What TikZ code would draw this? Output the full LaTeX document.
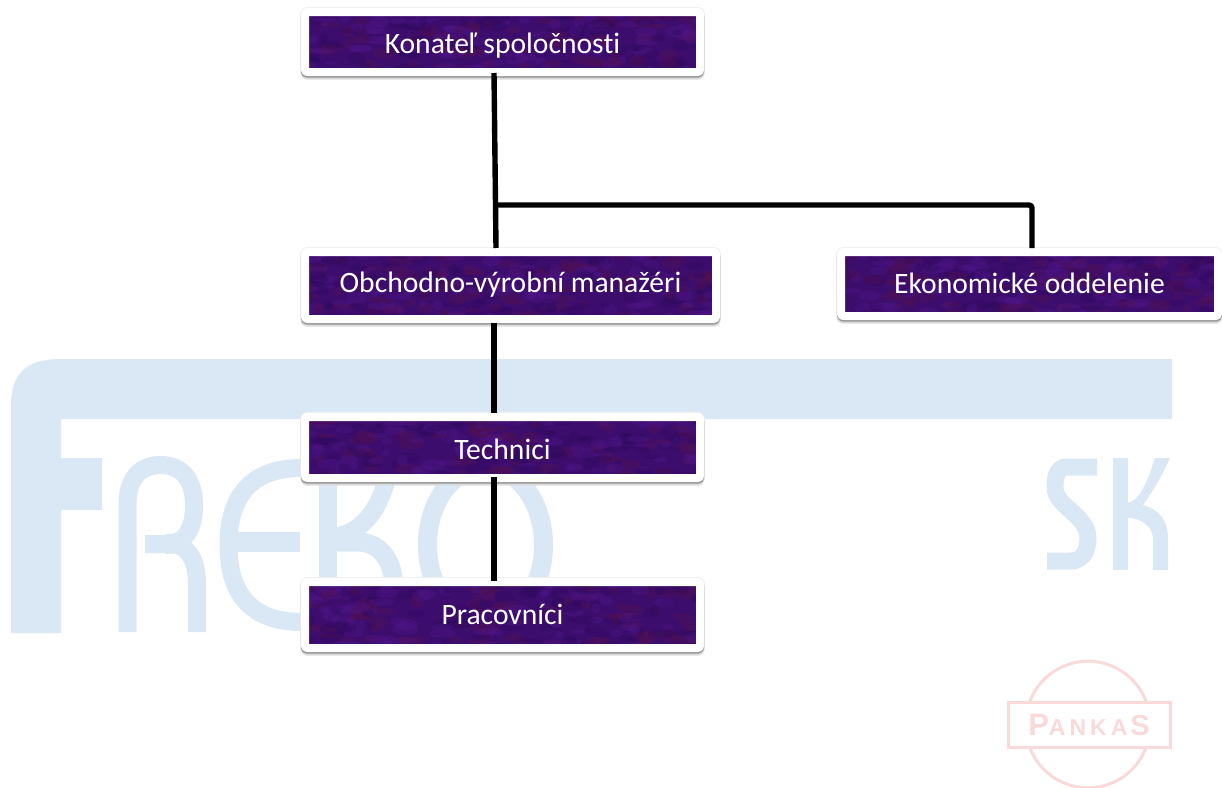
\documentclass[tikz,border=0pt]{standalone}
\usepackage{fontspec}
\setmainfont{Carlito}[Ligatures=NoCommon]
\newfontfamily\pankasfont{Liberation Sans}
\usetikzlibrary{calc}
\definecolor{logoblue}{HTML}{DAE8F5}
\definecolor{logopink}{HTML}{F9D9D9}
\definecolor{boxpurple}{HTML}{3D0D6E}
\definecolor{mottleA}{HTML}{4F1688}
\definecolor{mottleB}{HTML}{2E0A5E}
\definecolor{mottleC}{HTML}{521050}
\tikzset{
  x=1pt,y=-1pt,
  mottle/.style={path picture={
    \foreach \i in {1,...,320}{
      \pgfmathsetmacro{\dx}{rand*215}
      \pgfmathsetmacro{\dy}{rand*36}
      \pgfmathsetmacro{\rx}{4+rnd*9}
      \pgfmathsetmacro{\ry}{2+rnd*4}
      \pgfmathtruncatemacro{\pick}{mod(\i,3)}
      \ifcase\pick\relax\def\mc{mottleA}\or\def\mc{mottleB}\else\def\mc{mottleC}\fi
      \fill[\mc,opacity=.38] ($(path picture bounding box.center)+(\dx,\dy)$) ellipse [x radius=\rx pt,y radius=\ry pt];
    }
  }},
  orgbox/.style={rectangle,rounded corners=1.5pt,fill=boxpurple,mottle,draw=white,line width=8pt,line join=round,
    inner sep=0pt,outer sep=4pt,text=white,font=\fontsize{29.6}{32}\selectfont,text height=20pt,text depth=2pt,align=center,
    preaction={draw=black!6,line width=10pt},
    preaction={draw=black!14,line width=9pt,transform canvas={yshift=-3.2pt}},
    preaction={draw=black!42,line width=8pt,transform canvas={yshift=-1.6pt}}},
  link/.style={line width=5.4pt,black,rounded corners=3pt},
  logostroke/.style={draw=logoblue,line width=18pt,line cap=butt,line join=round},
  pankasline/.style={draw=logopink,line width=3pt}
}
\begin{document}
\begin{tikzpicture}
\pgfmathsetseed{4711}
\useasboundingbox (0,0) rectangle (1222,787);
% FREKO logo, pale blue
\fill[logoblue] (1172,359) -- (1172,419) -- (61,419) -- (61,458) -- (102,458) -- (102,510) -- (61,510) -- (61,633) -- (11,633) -- (11,405) .. controls (11,375) and (25,359) .. (60,359) -- cycle;
% R
\draw[logostroke] (127.5,632) -- (127.5,505) .. controls (127.5,478) and (140,465) .. (161,465) .. controls (182,465) and (194,480) .. (194,505) .. controls (194,530) and (185,544) .. (165,544) -- (145,544);
\draw[logostroke,line width=20pt] (165,544) -- (175,544);
\draw[logostroke] (175,544) .. controls (190,548) and (197,562) .. (197,585) -- (197,632);
% E
\draw[logostroke] (302,468) .. controls (252,468) and (228.5,495) .. (228.5,545) .. controls (228.5,595) and (252,622) .. (302,622);
\draw[logostroke,line width=20pt] (228.5,542) -- (300,542);
% K
\draw[logostroke] (327.5,458) -- (327.5,633);
\draw[logostroke] (392,458) .. controls (385,490) and (375,532) .. (330,538);
\draw[logostroke,line width=19pt] (330,542) -- (360,542) .. controls (382,544) and (394,562) .. (394,590) -- (394,633);
% O
\draw[logostroke,line width=19pt] (485.5,545) ellipse [x radius=58,y radius=78];
% SK
\draw[draw=logoblue,line width=17pt,line join=round] (1097,467) -- (1067,467) .. controls (1058,467) and (1055,475) .. (1055,487) .. controls (1055,507) and (1088,515) .. (1088,538) .. controls (1088,552) and (1082,561) .. (1070,561) -- (1047,561);
\fill[logoblue] (1113,458) rectangle (1128,570);
\fill[logoblue] (1155,458) -- (1170,458) .. controls (1160,480) and (1150,495) .. (1143,505) .. controls (1160,510) and (1168,520) .. (1168,540) -- (1168,570) -- (1153,570) -- (1153,540) .. controls (1153,525) and (1140,518) .. (1128,518) -- (1128,503) .. controls (1140,500) and (1148,480) .. (1155,458) -- cycle;
% PANKAS logo
\draw[pankasline] (1029.7,702) arc [start angle=200,end angle=340,radius=62];
\draw[pankasline] (1029.7,747) arc [start angle=160,end angle=20,radius=62];
\draw[pankasline] (1008,702) rectangle (1170,747);
\node[name=pankas,text=logopink,font=\pankasfont\bfseries,inner sep=0pt] at (1089,725) {\fontsize{31}{32}\selectfont P\hspace{0pt}\fontsize{23}{24}\selectfont A\hspace{4pt}N\hspace{4pt}K\hspace{4pt}A\hspace{3pt}\fontsize{29}{30}\selectfont S};
% boxes
\node[orgbox,minimum width=395pt,minimum height=60pt,text height=22pt,text depth=0pt] (kon) at (502.5,42) {Konateľ spoločnosti};
\node[orgbox,minimum width=411pt,minimum height=67pt,text height=17pt,text depth=3pt] (obch) at (510.5,285.5) {Obchodno-výrobní manažéri};
\node[orgbox,minimum width=377pt,minimum height=64pt] (eko) at (1029.5,284) {Ekonomické oddelenie};
\node[orgbox,minimum width=395pt,minimum height=61pt,text height=23pt,text depth=0pt] (tech) at (502.5,447.5) {Technici};
\node[orgbox,minimum width=395pt,minimum height=66pt] (prac) at (502.5,615) {Pracovníci};
% connectors
\coordinate (j) at (495.5,205);
\draw[link] ([xshift=-8.5pt,yshift=3pt]kon.south) -- ([xshift=-6.5pt]kon.south |- obch.north);
\draw[link] (j) -| ([xshift=2.5pt]eko.north);
\draw[link] ([xshift=-16.5pt]obch.south) -- ([xshift=-8.5pt]tech.north);
\draw[link] ([xshift=-8.5pt,yshift=5pt]tech.south) -- ([xshift=-8.5pt,yshift=-3pt]prac.north);
\end{tikzpicture}
\end{document}
